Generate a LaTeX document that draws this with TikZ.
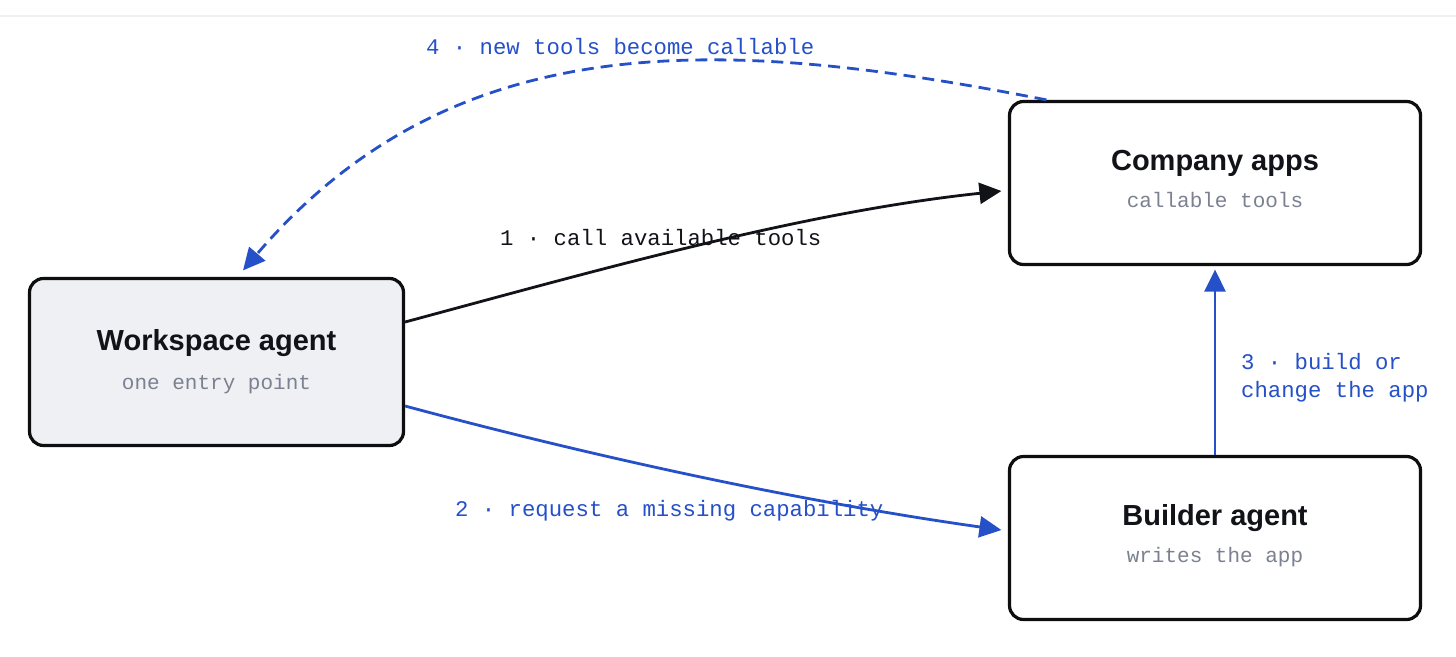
\documentclass[tikz,border=0pt]{standalone}
\usepackage{fontspec}
\setmainfont{Liberation Sans}
\newfontfamily\monof{Liberation Mono}
\usetikzlibrary{arrows.meta,calc}
\definecolor{cblue}{HTML}{2550C8}
\definecolor{ink}{HTML}{111318}
\definecolor{boxline}{HTML}{0E0E10}
\definecolor{subgray}{HTML}{7B8190}
\definecolor{wafill}{HTML}{EEF0F4}
\definecolor{topline}{HTML}{F0F0F0}
\begin{document}
\begin{tikzpicture}[x=1pt,y=1pt,
  box/.style={draw=boxline, line width=3.2pt, rounded corners=14pt, inner sep=0pt, fill=white},
  title/.style={font=\fontsize{29}{32}\selectfont\bfseries, text=ink, anchor=base, inner sep=0pt},
  sub/.style={font=\monof\fontsize{21}{24}\selectfont, text=subgray, anchor=base, inner sep=0pt},
  lab/.style={font=\monof\fontsize{22.3}{28}\selectfont, anchor=base west, inner sep=0pt},
  conn/.style={line width=2.8pt},
  tipk/.style={-{Triangle[length=22pt,width=21pt,fill=ink]}},
  tipb/.style={-{Triangle[length=22pt,width=21pt,fill=cblue]}},
]
\fill[white] (0,0) rectangle (1456,-656);
\useasboundingbox (0,0) rectangle (1456,-656);
\coordinate (tl) at (0,-16);
\coordinate (tr) at (1456,-16);
\draw[topline, line width=1.5pt] (tl) -- (tr);

% boxes
\node[box, fill=wafill, minimum width=374pt, minimum height=167pt] (wa) at (216.5,-362) {};
\node[box, minimum width=411pt, minimum height=163pt] (ca) at (1215,-183) {};
\node[box, minimum width=411pt, minimum height=163pt] (bb) at (1215,-538) {};

% box texts
\node[title] (wat) at ($(wa.center)+(0,12)$) {Workspace agent};
\node[sub] (was) at ($(wa.center)+(0,-27)$) {one entry point};
\node[title] (cat) at ($(ca.center)+(0,12.5)$) {Company apps};
\node[sub] (cas) at ($(ca.center)+(0,-24)$) {callable tools};
\node[title] (bbt) at ($(bb.center)+(0,12.5)$) {Builder agent};
\node[sub] (bbs) at ($(bb.center)+(0,-24)$) {writes the app};

% connectors
\draw[conn, draw=ink, tipk]
  ($(wa.east)+(0,40)$) .. controls +(193,52) and +(-199,-21) .. ($(ca.west)+(-6.5,-8)$);
\draw[conn, draw=cblue, tipb]
  ($(wa.east)+(0,-44)$) .. controls +(193,-52) and +(-198,28) .. ($(bb.west)+(-6.5,8)$);
\draw[conn, draw=cblue, tipb]
  (bb.north) -- ($(ca.south)+(0,-3.5)$);
\draw[conn, draw=cblue, dash pattern=on 12pt off 7pt, tipb]
  ($(ca.north west)+(38.5,0)$) .. controls +(-316,62) and +(214,250) .. ($(wa.north)+(26.5,6.5)$);

% labels
\node[lab, text=ink] (l1) at (500,-245) {1 · call available tools};
\node[lab, text=cblue] (l2) at (455,-516) {2 · request a missing capability};
\node[lab, text=cblue] (l3a) at (1241,-369) {3 · build or};
\node[lab, text=cblue] (l3b) at (1241,-397) {change the app};
\node[lab, text=cblue] (l4) at (426,-54) {4 · new tools become callable};
\end{tikzpicture}
\end{document}
